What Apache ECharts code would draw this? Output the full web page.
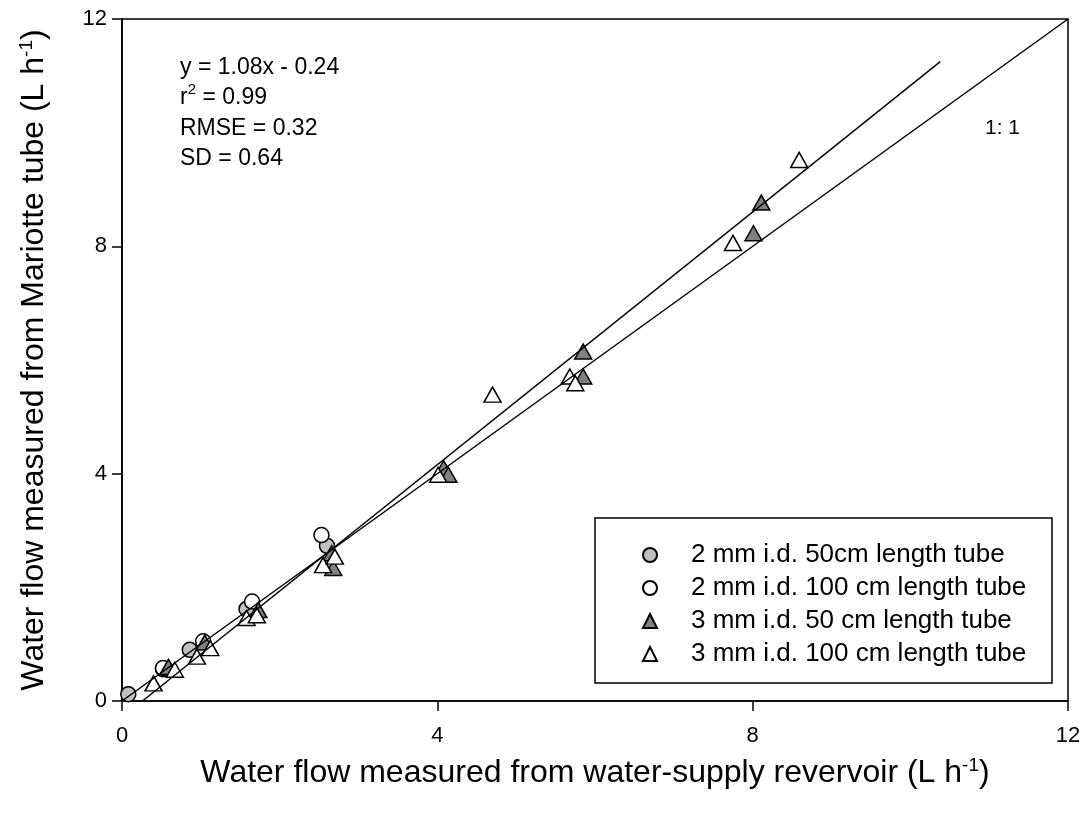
<!DOCTYPE html>
<html>
<head>
<meta charset="utf-8">
<script src="https://cdn.jsdelivr.net/npm/echarts@6/dist/echarts.min.js"></script>
<style>html,body{margin:0;padding:0;background:#fff}#c{width:1089px;height:821px}</style>
</head>
<body>
<div id="c"></div>
<script>
const seriesNames = ['2 mm i.d. 50cm length tube','2 mm i.d. 100 cm length tube','3 mm i.d. 50 cm length tube','3 mm i.d. 100 cm length tube'];
const grayCircles = [[0.08,0.12],[0.52,0.56],[0.86,0.90],[1.58,1.62],[2.60,2.73]];
const whiteCircles = [[0.52,0.58],[1.03,1.05],[1.65,1.75],[2.53,2.92]];
const grayTriangles = [[0.59,0.60],[1.05,1.03],[1.73,1.60],[2.66,2.60],[2.68,2.34],[4.08,4.10],[4.14,3.98],[5.85,6.15],[5.85,5.71],[8.01,8.23],[8.11,8.77]];
const whiteTriangles = [[0.40,0.31],[0.67,0.55],[0.95,0.78],[1.12,0.93],[1.58,1.46],[1.71,1.51],[2.55,2.39],[2.70,2.54],[4.01,3.98],[4.70,5.39],[5.68,5.71],[5.75,5.59],[7.75,8.06],[8.59,9.52]];
const oneToOne = [[0,0],[12,12]];
const fitLine = [[0.26,0],[10.38,11.25]];
const xTicks = [0,4,8,12];
const yTicks = [0,4,8,12];
const statLines = ['y = 1.08x - 0.24','r{sup|2} = 0.99','RMSE = 0.32','SD = 0.64'];

const FONT = '"Liberation Sans", Arial, sans-serif';
const chart = echarts.init(document.getElementById('c'));
const mk = (name, data, symbol, fill, size) => ({
  name, type: 'scatter', data, symbol, symbolSize: size, z: 3,
  itemStyle: {color: fill, borderColor: '#000', borderWidth: 1.5, opacity: 1}
});
const titleStyle = {fontSize: 32, color: '#000', fontFamily: FONT, rich: {sup: {fontSize: 19, verticalAlign: 'top', padding:[0,0,16,0], color:'#000', fontFamily: FONT}}};
chart.setOption({
  animation: false,
  backgroundColor: '#fff',
  textStyle: {fontFamily: FONT},
  grid: {left: 122, right: 21, top: 19, bottom: 120, show: true, borderColor: '#000', borderWidth: 1.5, backgroundColor: 'transparent'},
  xAxis: {
    type: 'value', min: xTicks[0], max: xTicks[xTicks.length-1], interval: 4,
    name: 'Water flow measured from water-supply revervoir (L h{sup|-1})',
    nameLocation: 'middle', nameGap: 55,
    nameTextStyle: titleStyle,
    axisLine: {lineStyle: {color: '#000', width: 1.5}},
    axisTick: {inside: false, length: 10, lineStyle: {color: '#000', width: 1.5}},
    axisLabel: {fontSize: 22, color: '#000', margin: 24, fontFamily: FONT},
    splitLine: {show: false}
  },
  yAxis: {
    type: 'value', min: yTicks[0], max: yTicks[yTicks.length-1], interval: 4,
    name: 'Water flow measured from Mariotte tube (L h{sup|-1})',
    nameLocation: 'middle', nameGap: 70,
    nameTextStyle: titleStyle,
    axisLine: {lineStyle: {color: '#000', width: 1.5}},
    axisTick: {inside: false, length: 10, lineStyle: {color: '#000', width: 1.5}},
    axisLabel: {fontSize: 22, color: '#000', margin: 15, fontFamily: FONT},
    splitLine: {show: false}
  },
  legend: {
    data: seriesNames, orient: 'vertical', left: 637, top: 537,
    itemWidth: 14, itemHeight: 14, itemGap: 7,
    textStyle: {fontSize: 26, color: '#000', fontFamily: FONT, lineHeight: 26, padding: [0,0,0,29]}
  },
  graphic: [
    {type: 'rect', shape: {x: 595, y: 518, width: 457, height: 165}, style: {fill: 'transparent', stroke: '#000', lineWidth: 1.5}, z: 1},
    {type: 'text', left: 180, top: 52, style: {text: statLines.join('\n'), font: '23px ' + FONT, fill: '#000', lineHeight: 30.5, rich: {sup: {fontSize: 15, verticalAlign: 'top', padding:[0,0,9,0], fill:'#000', fontFamily: FONT}}}},
    {type: 'text', left: 985, top: 118, style: {text: '1: 1', font: '21px ' + FONT, fill: '#000'}}
  ],
  series: [
    mk(seriesNames[0], grayCircles, 'circle', '#c0c0c0', 15),
    mk(seriesNames[1], whiteCircles, 'circle', '#ffffff', 15),
    mk(seriesNames[2], grayTriangles, 'triangle', '#808080', [17,15]),
    mk(seriesNames[3], whiteTriangles, 'triangle', '#ffffff', [17,15]),
    {type: 'line', data: oneToOne, symbol: 'none', z: 5, lineStyle: {color: '#000', width: 1.5}, silent: true},
    {type: 'line', data: fitLine, symbol: 'none', z: 5, lineStyle: {color: '#000', width: 1.5}, silent: true}
  ]
});
</script>
</body>
</html>
